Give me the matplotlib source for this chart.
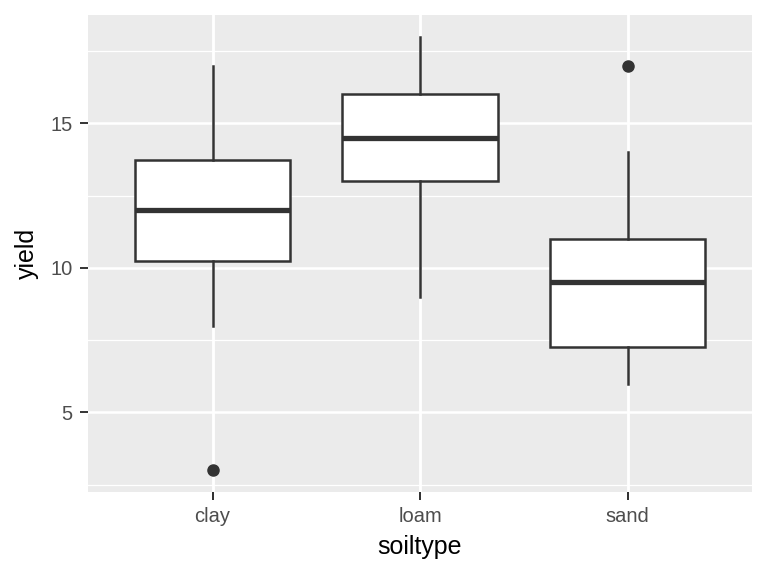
import matplotlib.pyplot as plt
import numpy as np

# soil type yields, box stats
soiltypes = ["clay", "loam", "sand"]
whislo = [8, 9, 6]
q1 = [10.25, 13, 7.25]
med = [12, 14.5, 9.5]
q3 = [13.75, 16, 11]
whishi = [17, 18, 14]
outliers = [[3], [], [17]]

plt.rcParams["font.family"] = ["Liberation Sans", "DejaVu Sans"]

fig = plt.figure(figsize=(7.68, 5.76), dpi=100)
ax = fig.add_axes([88 / 768, 1 - 492 / 576, (752 - 88) / 768, (492 - 15) / 576])
ax.set_facecolor("#EBEBEB")

stats = []
for i in range(len(soiltypes)):
    stats.append(dict(whislo=whislo[i], q1=q1[i], med=med[i], q3=q3[i],
                      whishi=whishi[i], fliers=outliers[i], label=soiltypes[i]))

pos = np.arange(1, len(soiltypes) + 1)

ax.set_xlim(0.4, 3.6)
ax.set_ylim(2.25, 18.75)

ax.set_yticks([5, 10, 15])
ax.set_yticks([2.5, 7.5, 12.5, 17.5], minor=True)
ax.set_xticks(pos)
ax.set_xticklabels(soiltypes)
ax.grid(True, which="major", color="white", linewidth=1.8)
ax.grid(True, which="minor", axis="y", color="white", linewidth=0.9)
ax.set_axisbelow(True)
for s in ax.spines.values():
    s.set_visible(False)

ax.bxp(stats, positions=pos, widths=0.75, patch_artist=True, showcaps=False,
       boxprops=dict(facecolor="white", edgecolor="#333333", linewidth=1.8),
       medianprops=dict(color="#333333", linewidth=3.8),
       whiskerprops=dict(color="#333333", linewidth=1.8),
       flierprops=dict(marker="o", markerfacecolor="#333333",
                       markeredgecolor="#333333", markersize=8))

ax.tick_params(which="major", length=6, width=1.4, color="#333333",
               labelcolor="#4D4D4D", labelsize=14.5, pad=5)
ax.tick_params(which="minor", length=0)
ax.set_xlabel("soiltype", fontsize=18, labelpad=6)
ax.set_ylabel("yield", fontsize=18, labelpad=8)

fig.savefig("out.png", dpi=100)
